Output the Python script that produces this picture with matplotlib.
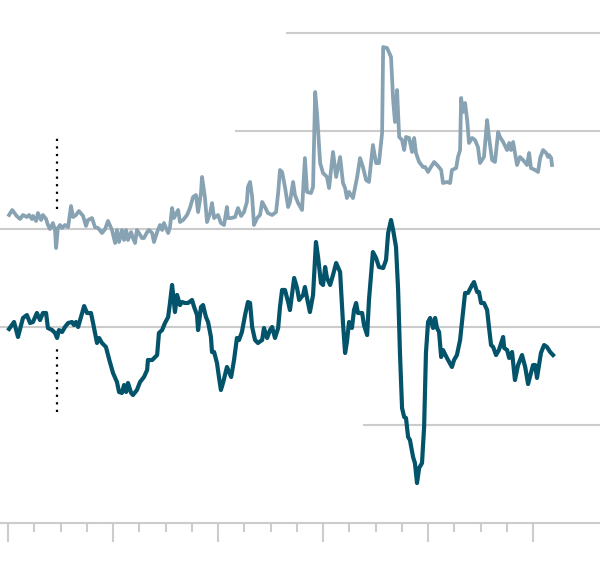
import matplotlib
matplotlib.use("Agg")
import matplotlib.pyplot as plt
from matplotlib.ticker import FixedLocator, NullFormatter

# time in years since start
light_t = [0.04, 0.16, 0.33, 0.46, 0.57, 0.72, 0.80, 0.91, 0.95, 1.07, 1.14, 1.26, 1.33, 1.45, 1.52,
           1.60, 1.71, 1.79, 1.83, 1.90, 1.98, 2.06, 2.17, 2.29, 2.40, 2.48, 2.59, 2.70, 2.86, 2.97,
           3.05, 3.20, 3.31, 3.43, 3.58, 3.70, 3.81, 3.96, 4.08, 4.15, 4.23, 4.34, 4.42, 4.50, 4.57,
           4.69, 4.76, 4.84, 4.91, 4.99, 5.10, 5.18, 5.30, 5.37, 5.49, 5.56, 5.68, 5.79, 5.87, 5.94,
           6.10, 6.17, 6.25, 6.32, 6.48, 6.55, 6.67, 6.82, 6.93, 7.05, 7.16, 7.24, 7.35, 7.39, 7.50,
           7.58, 7.70, 7.77, 7.85, 8.00, 8.11, 8.23, 8.34, 8.38, 8.50, 8.65, 8.76, 8.88, 8.99, 9.10,
           9.14, 9.22, 9.30, 9.37, 9.49, 9.60, 9.68, 9.79, 9.90, 10.06, 10.21, 10.29, 10.36, 10.44,
           10.55, 10.67, 10.74, 10.86, 10.93, 11.05, 11.20, 11.31, 11.39, 11.54, 11.62, 11.70, 11.77,
           11.89, 12.00, 12.15, 12.23, 12.38, 12.50, 12.65, 12.76, 12.84, 12.91, 12.99, 13.14, 13.30,
           13.41, 13.52, 13.64, 13.75, 13.90, 14.02, 14.13, 14.25, 14.29, 14.44, 14.59, 14.67, 14.74,
           14.82, 14.90, 15.01, 15.09, 15.16, 15.28, 15.39, 15.47, 15.54, 15.66, 15.81, 15.89, 16.00,
           16.11, 16.23, 16.38, 16.50, 16.57, 16.72, 16.84, 16.91, 17.07, 17.14, 17.22, 17.26, 17.33,
           17.41, 17.49, 17.56, 17.68, 17.79, 17.90, 17.98, 18.13, 18.25, 18.32, 18.44, 18.55, 18.67,
           18.74, 18.86, 19.01, 19.09, 19.16, 19.24, 19.39, 19.50, 19.62, 19.77, 19.85, 19.92, 20.08,
           20.19, 20.27, 20.38, 20.50, 20.57, 20.61, 20.69, 20.72]
light_v = [11.43, 11.94, 11.33, 11.02, 11.43, 11.22, 11.43, 11.02, 11.33, 10.82, 11.63, 10.92, 11.43, 11.02, 10.41,
           10.00, 10.61, 9.90, 8.06, 10.10, 10.41, 10.10, 10.41, 10.20, 12.35, 11.22, 11.43, 11.84, 11.33, 10.31,
           10.92, 11.12, 10.20, 10.10, 9.59, 10.00, 10.82, 9.90, 8.57, 9.90, 8.67, 9.90, 8.88, 9.90, 8.88,
           9.69, 9.08, 8.57, 9.90, 9.59, 9.08, 9.08, 9.69, 9.90, 9.59, 8.67, 9.69, 10.41, 9.90, 10.61,
           9.59, 10.20, 12.14, 11.12, 11.94, 10.71, 10.92, 11.43, 12.14, 13.27, 13.47, 11.73, 13.67, 15.31, 13.27,
           10.71, 11.63, 12.65, 11.12, 11.43, 10.61, 10.41, 12.24, 11.12, 11.12, 11.22, 12.14, 11.33, 11.73, 12.76,
           14.29, 14.80, 13.27, 10.41, 11.12, 11.43, 12.76, 12.24, 11.63, 11.43, 11.73, 13.67, 16.02, 15.82,
           14.29, 12.24, 12.76, 14.80, 13.47, 12.65, 11.94, 17.24, 13.78, 13.67, 14.29, 23.98, 21.84,
           16.73, 15.71, 15.31, 14.18, 17.86, 15.31, 17.35, 14.69, 14.18, 13.16, 13.78, 13.16, 15.31,
           17.24, 16.33, 15.00, 14.80, 18.57, 16.73, 16.73, 19.80, 28.57, 28.47, 27.55, 23.16, 20.92,
           24.18, 19.39, 19.08, 18.06, 19.39, 19.29, 17.86, 19.29, 17.76, 16.84, 16.33, 16.33, 15.82,
           16.33, 16.84, 16.43, 16.02, 14.69, 14.80, 14.69, 16.02, 16.22, 17.35, 18.06, 23.37, 21.94,
           22.86, 21.12, 18.78, 19.29, 19.08, 18.37, 16.73, 17.35, 21.12, 19.39, 17.04, 16.84, 19.90,
           19.39, 18.88, 18.06, 18.78, 18.06, 18.88, 16.53, 17.35, 17.04, 16.53, 17.76, 16.22, 16.02,
           15.82, 17.24, 18.06, 17.76, 17.35, 17.55, 17.24, 16.53]

dark_t = [0.04, 0.23, 0.38, 0.57, 0.72, 0.84, 0.95, 1.10, 1.22, 1.33, 1.45, 1.52, 1.68, 1.79, 1.87,
          1.94, 2.06, 2.17, 2.29, 2.44, 2.51, 2.59, 2.67, 2.78, 2.90, 3.01, 3.16, 3.24, 3.39, 3.47,
          3.58, 3.73, 3.86, 4.00, 4.15, 4.23, 4.34, 4.42, 4.50, 4.57, 4.69, 4.76, 4.91, 5.03, 5.18,
          5.30, 5.33, 5.49, 5.68, 5.75, 5.87, 5.98, 6.10, 6.17, 6.25, 6.36, 6.44, 6.55, 6.63, 6.74,
          6.86, 7.01, 7.09, 7.20, 7.24, 7.35, 7.43, 7.54, 7.62, 7.73, 7.77, 7.85, 7.96, 8.04, 8.11,
          8.19, 8.34, 8.42, 8.50, 8.61, 8.72, 8.80, 8.91, 9.03, 9.14, 9.22, 9.30, 9.41, 9.52, 9.68,
          9.75, 9.87, 9.98, 10.06, 10.17, 10.29, 10.36, 10.44, 10.55, 10.67, 10.74, 10.90, 11.01,
          11.09, 11.24, 11.31, 11.39, 11.50, 11.62, 11.73, 11.81, 11.92, 12.00, 12.08, 12.15, 12.27,
          12.38, 12.50, 12.65, 12.76, 12.84, 12.91, 12.99, 13.10, 13.18, 13.26, 13.33, 13.49, 13.56,
          13.68, 13.75, 13.90, 14.02, 14.13, 14.29, 14.40, 14.48, 14.59, 14.67, 14.78, 14.86, 14.93,
          15.01, 15.09, 15.16, 15.24, 15.31, 15.43, 15.50, 15.58, 15.66, 15.77, 15.85, 15.92, 16.00,
          16.08, 16.19, 16.27, 16.34, 16.42, 16.50, 16.57, 16.72, 16.91, 16.99, 17.10, 17.22, 17.33,
          17.41, 17.52, 17.68, 17.75, 17.87, 17.94, 18.02, 18.13, 18.25, 18.32, 18.40, 18.48, 18.59,
          18.70, 18.86, 18.90, 19.01, 19.09, 19.20, 19.31, 19.43, 19.58, 19.70, 19.81, 20.00, 20.08,
          20.15, 20.30, 20.42, 20.53, 20.65, 20.76]
dark_v = [-0.20, 0.51, -1.02, 0.92, 1.22, 0.41, 0.51, 1.43, 0.71, 1.43, 1.43, -0.10, -0.31, -0.61, -1.12,
          -0.31, -0.51, 0.00, 0.41, 0.51, 0.20, 0.51, 0.00, 1.02, 2.14, 1.43, 1.43, 0.41, -1.63, -1.12,
          -1.63, -2.04, -3.37, -4.69, -5.61, -6.63, -6.73, -5.92, -6.63, -5.71, -6.73, -6.94, -6.43, -5.61, -5.10,
          -4.39, -3.37, -3.37, -2.86, -0.61, -0.31, 0.41, 1.02, 2.45, 4.29, 1.53, 3.27, 2.24, 2.55, 2.45,
          2.45, 2.76, 2.04, 1.22, -0.31, 2.04, 2.24, 1.02, 0.51, -1.02, -2.55, -2.55, -3.67, -5.20, -6.43,
          -5.71, -4.08, -4.59, -5.10, -3.37, -1.12, -1.33, -0.51, 1.22, 2.55, 2.45, 0.00, -1.33, -1.63, -1.33,
          -0.10, -1.12, -0.31, 0.00, -1.12, -0.10, 2.04, 3.78, 3.78, 2.55, 1.73, 5.00, 3.98,
          2.76, 3.27, 4.08, 2.96, 1.53, 3.27, 8.67, 7.14, 4.49, 4.29, 6.12, 5.00, 4.29,
          5.31, 6.53, 5.61, 0.41, -2.65, -1.53, 0.51, -0.10, 1.73, 2.45, 1.43, 1.43, 0.20,
          -0.82, 2.76, 7.65, 7.04, 6.12, 6.02, 6.84, 9.59, 10.92, 9.90, 8.16, 3.78, -2.65,
          -8.27, -9.18, -9.29, -11.22, -11.53, -13.27, -13.88, -15.92, -14.39, -13.88, -10.20, -2.65, 0.51,
          0.92, -0.10, 0.92, -0.10, -0.51, -3.06, -2.35, -3.16, -4.08, -3.37, -2.86, -1.33, 1.43,
          3.47, 3.47, 4.29, 4.59, 3.57, 3.57, 2.45, 2.45, 1.73, 0.00, -1.84, -2.04, -2.86,
          -2.35, -1.02, -2.14, -2.35, -3.16, -2.55, -5.41, -3.88, -2.86, -4.08, -5.82, -3.88, -3.88,
          -5.20, -2.65, -1.84, -2.04, -2.55, -2.86]

event_t = 1.87
event_upper = (12.04, 19.59)
event_lower = (-8.67, -2.14)

full_grid = [10, 0]
partial_grid = [(30, 10.59), (20, 8.65), (-10, 13.52)]
major_ticks = [0, 4, 8, 12, 16, 20]
minor_ticks = [t for t in range(0, 21) if t % 4 != 0]

LIGHT = "#87a2b2"
DARK = "#03536a"
GRID = "#cccccc"

fig = plt.figure(figsize=(6, 5.66), dpi=100)
ax = fig.add_axes([0, 43 / 566, 1, 523 / 566])
ax.set_xlim(-0.305, 22.55)
ax.set_ylim(-20, 33.37)

for g in full_grid:
    ax.axhline(g, color=GRID, lw=1.5, zorder=1)
for g, x0 in partial_grid:
    ax.hlines(g, x0, 22.55, color=GRID, lw=1.5, zorder=1)

ax.plot(light_t, light_v, color=LIGHT, lw=2.7, zorder=3, solid_joinstyle="round")
ax.plot(dark_t, dark_v, color=DARK, lw=3.0, zorder=4, solid_joinstyle="round")

ax.plot([event_t, event_t], event_upper, color="black", lw=1.6, linestyle=(0, (1, 2.4)),
        dash_capstyle="butt", zorder=5)
ax.plot([event_t, event_t], event_lower, color="black", lw=1.6, linestyle=(0, (1, 2.4)),
        dash_capstyle="butt", zorder=5)

for s in ["left", "right", "top"]:
    ax.spines[s].set_visible(False)
ax.spines["bottom"].set_color(GRID)
ax.spines["bottom"].set_linewidth(1.5)
ax.set_yticks([])
ax.xaxis.set_major_locator(FixedLocator(major_ticks))
ax.xaxis.set_minor_locator(FixedLocator(minor_ticks))
ax.xaxis.set_major_formatter(NullFormatter())
ax.xaxis.set_minor_formatter(NullFormatter())
ax.tick_params(axis="x", which="major", length=13.5, width=1.5, color=GRID)
ax.tick_params(axis="x", which="minor", length=6.5, width=1.5, color=GRID)

fig.savefig("out.png", dpi=100)
